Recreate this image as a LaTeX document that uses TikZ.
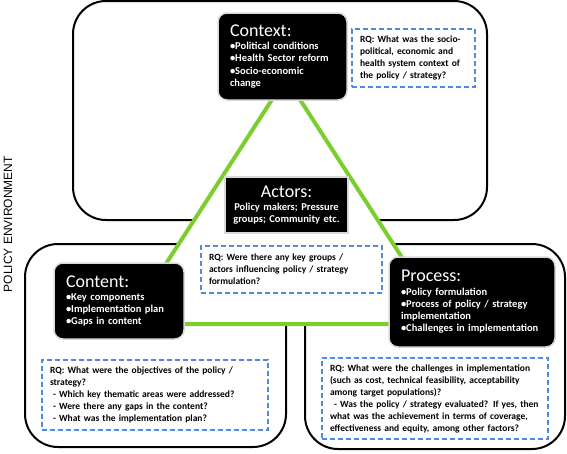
\documentclass[tikz,border=0pt]{standalone}
\usepackage{fontspec}
\setmainfont{Carlito}
\newfontfamily\arialfont{Liberation Sans}
\definecolor{trigreen}{RGB}{125,205,45}
\definecolor{rqblue}{RGB}{75,140,225}
\newcommand{\titlef}{\mdseries\fontsize{18}{20}\selectfont}
\begin{document}
\begin{tikzpicture}[x=1pt,y=-1pt,
  env/.style={draw=black, line width=2, rounded corners=33, fill=white},
  tri/.style={draw=trigreen, line width=4, fill=white, line join=round},
  blk/.style={fill=black, draw=black!15, line width=1.5, rounded corners=9, text=white,
    font=\bfseries\fontsize{10.5}{12.3}\selectfont, align=left, inner xsep=12, inner ysep=2},
  rq/.style={draw=rqblue, dash pattern=on 5 off 3, line width=1.5, fill=white,
    font=\bfseries\fontsize{9.5}{12}\selectfont, align=left, inner xsep=8, inner ysep=2, text=black}
]
\useasboundingbox (0,0) rectangle (567,453);
% policy environment boxes
\draw[env] (73,1) rectangle (487,220);
\draw[env] (25,244) rectangle (286,447);
\draw[env] (305,244) rectangle (565,449);
% triangle
\coordinate (apex) at (286,78);
\coordinate (bl) at (127,324);
\coordinate (br) at (445,324);
\draw[tri] (apex) -- (bl) -- (br) -- cycle;
% black boxes
\node[blk, minimum width=129, minimum height=87, text width=105] (context) at (282.5,56.5)
  {{\titlef Context:}\\[1pt] •Political conditions\\ •Health Sector reform\\ •Socio-economic\\ change};
\node[blk, rounded corners=0, minimum width=123, minimum height=56, text width=115, inner xsep=4, align=center] (actors) at (286.5,205)
  {{\titlef Actors:}\\[1pt] Policy makers; Pressure\\ groups; Community etc.};
\node[blk, minimum width=130, minimum height=76, text width=106] (content) at (119,301)
  {{\titlef Content:}\\[1pt] •Key components\\ •Implementation plan\\ •Gaps in content};
\node[blk, minimum width=166, minimum height=90, text width=142] (process) at (472,302)
  {{\titlef Process:}\\[1pt] •Policy formulation\\ •Process of policy / strategy\\ implementation\\ •Challenges in implementation};
% RQ boxes
\node[rq, minimum width=123, minimum height=58, text width=107] (rqcontext) at (413.5,58)
  {RQ: What was the socio-\\ political, economic and\\ health system context of\\ the policy / strategy?};
\node[rq, minimum width=181, minimum height=47, text width=165] (rqactors) at (291.5,269.5)
  {RQ: Were there any key groups /\\ actors influencing policy / strategy\\ formulation?};
\node[rq, minimum width=226, minimum height=70, text width=210] (rqcontent) at (155,395)
  {RQ: What were the objectives of the policy /\\ strategy?\\ \hspace*{3pt}- Which key thematic areas were addressed?\\ \hspace*{3pt}- Were there any gaps in the content?\\ \hspace*{3pt}- What was the implementation plan?};
\node[rq, minimum width=226, minimum height=81, text width=210] (rqprocess) at (435,398.5)
  {RQ: What were the challenges in implementation\\ (such as cost, technical feasibility, acceptability\\ among target populations)?\\ \hspace*{4pt}- Was the policy / strategy evaluated? If yes, then\\ what was the achievement in terms of coverage,\\ effectiveness and equity, among other factors?};
% side label
\node[rotate=90, font=\arialfont\fontsize{12}{12}\selectfont] (envlabel) at (8,224) {POLICY ENVIRONMENT};
\end{tikzpicture}
\end{document}
